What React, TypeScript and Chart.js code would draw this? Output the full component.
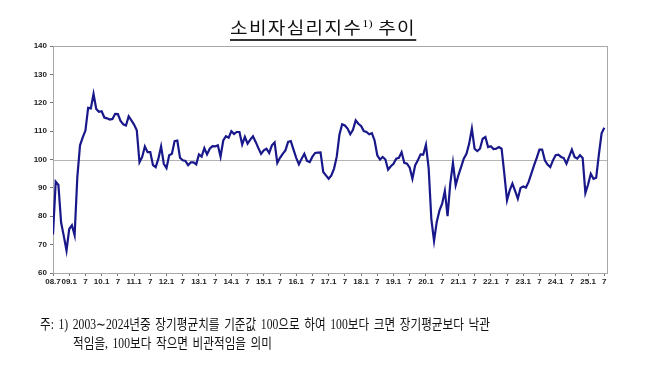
import React, { useEffect, useRef } from "react";
import { Chart, registerables } from "chart.js";
Chart.register(...registerables);

// 소비자심리지수 (monthly, 2008.7 ~ 2025.7)
const cci2008_2009 = [73.6, 92.2, 91.0, 77.8, 73.0, 67.9, 75.5, 76.8, 73.3, 93.8, 105.0, 107.8, 110.2, 118.2, 118.0, 123.1, 117.8, 116.8];
const cci2010 = [117.0, 114.8, 114.5, 114.1, 114.3, 116.1, 116.0, 113.6, 112.4, 112.0, 115.2, 113.8];
const cci2011 = [112.3, 110.3, 99.0, 100.9, 104.6, 102.6, 102.6, 98.0, 97.3, 100.3, 104.6, 98.5];
const cci2012 = [97.0, 101.5, 102.0, 106.5, 106.7, 100.6, 99.7, 99.5, 98.0, 99.0, 99.0, 98.3];
const cci2013 = [101.8, 101.0, 104.0, 101.8, 103.8, 104.7, 104.6, 105.0, 101.0, 106.7, 108.2, 107.7];
const cci2014 = [110.0, 109.0, 109.7, 109.7, 105.3, 108.0, 105.6, 107.0, 108.2, 106.2, 104.0, 102.0];
const cci2015 = [103.2, 103.8, 102.3, 105.0, 106.0, 98.8, 100.6, 102.0, 103.2, 106.2, 106.5, 103.5];
const cci2016 = [100.6, 98.3, 100.3, 102.0, 99.5, 99.1, 101.0, 102.3, 102.4, 102.5, 95.6, 94.4];
const cci2017 = [93.2, 94.4, 96.8, 101.0, 108.8, 112.4, 112.0, 110.9, 108.9, 110.5, 113.8, 112.6];
const cci2018 = [111.8, 110.0, 109.7, 108.9, 109.3, 106.7, 101.5, 100.0, 100.9, 100.0, 96.4, 97.6];
const cci2019 = [98.5, 100.3, 100.6, 102.6, 98.8, 98.5, 97.1, 93.2, 97.9, 99.7, 101.8, 101.7];
const cci2020 = [105.2, 97.0, 79.0, 71.3, 78.0, 82.0, 84.4, 88.9, 80.0, 91.5, 98.8, 90.9];
const cci2021 = [94.4, 97.3, 100.3, 102.0, 105.6, 110.9, 103.8, 103.0, 103.8, 107.3, 107.9, 104.4];
const cci2022 = [104.7, 103.7, 103.8, 104.4, 103.8, 95.0, 85.6, 89.1, 91.5, 88.9, 86.2, 90.0];
const cci2023 = [90.5, 90.1, 92.1, 95.0, 97.9, 100.6, 103.5, 103.5, 99.7, 98.2, 97.3, 99.7];
const cci2024 = [101.5, 101.7, 100.9, 100.5, 98.5, 101.0, 103.5, 100.9, 100.3, 101.5, 100.5, 88.2];
const cci2025 = [91.2, 95.0, 93.2, 93.6, 101.8, 109.2, 111.2];

const xTickLabels = [
  "08.7", "09.1", "7", "10.1", "7", "11.1", "7", "12.1", "7", "13.1", "7", "14.1", "7",
  "15.1", "7", "16.1", "7", "17.1", "7", "18.1", "7", "19.1", "7", "20.1", "7", "21.1", "7",
  "22.1", "7", "23.1", "7", "24.1", "7", "25.1", "7",
];
const yTicks = [60, 70, 80, 90, 100, 110, 120, 130, 140];
const baseline = 100;

const cciValues = [
  ...cci2008_2009, ...cci2010, ...cci2011, ...cci2012, ...cci2013, ...cci2014, ...cci2015,
  ...cci2016, ...cci2017, ...cci2018, ...cci2019, ...cci2020, ...cci2021, ...cci2022,
  ...cci2023, ...cci2024, ...cci2025,
];

const titleMain = "소비자심리지수";
const titleSup = "1)";
const titleTail = " 추이";
const noteLine1 = "주: 1) 2003∼2024년중 장기평균치를 기준값 100으로 하여 100보다 크면 장기평균보다 낙관";
const noteLine2 = "적임을, 100보다 작으면 비관적임을 의미";

const fitWidth = (target: number) => (el: HTMLElement | null) => {
  if (!el) return;
  el.style.transform = "none";
  const w = el.getBoundingClientRect().width;
  if (w > 0) el.style.transform = `scaleX(${target / w})`;
};

const frameAndBaseline = {
  id: "frameAndBaseline",
  beforeDatasetsDraw(chart: any) {
    const { ctx, chartArea } = chart;
    const y = chart.scales.y.getPixelForValue(baseline);
    ctx.save();
    ctx.strokeStyle = "#b4b4b4";
    ctx.lineWidth = 1;
    ctx.beginPath();
    ctx.moveTo(chartArea.left, Math.round(y) + 0.5);
    ctx.lineTo(chartArea.right, Math.round(y) + 0.5);
    ctx.stroke();
    ctx.strokeStyle = "#a8a8a8";
    ctx.strokeRect(
      Math.round(chartArea.left) + 0.5,
      Math.round(chartArea.top) + 0.5,
      Math.round(chartArea.right - chartArea.left),
      Math.round(chartArea.bottom - chartArea.top)
    );
    ctx.restore();
  },
};

export default function App() {
  const canvasRef = useRef<HTMLCanvasElement | null>(null);

  useEffect(() => {
    if (!canvasRef.current) return;
    const tickFont = { family: "'Liberation Sans', Arial, sans-serif", size: 8, weight: "bold" as const };
    const chart = new Chart(canvasRef.current, {
      type: "line",
      data: {
        datasets: [
          {
            data: cciValues.map((v, i) => ({ x: i, y: v })),
            borderColor: "#18188a",
            borderWidth: 2.2,
            pointRadius: 0,
            tension: 0,
            fill: false,
          },
        ],
      },
      options: {
        animation: false,
        responsive: false,
        devicePixelRatio: 1,
        layout: { padding: { left: 0, top: 46, right: 63, bottom: 0 } },
        plugins: { legend: { display: false }, tooltip: { enabled: false }, title: { display: false } },
        scales: {
          x: {
            type: "linear",
            min: 0,
            max: 205,
            afterBuildTicks: (scale: any) => {
              scale.ticks = xTickLabels.map((_, i) => ({ value: i * 6 }));
            },
            afterFit: (scale: any) => {
              scale.height = 96;
            },
            ticks: {
              autoSkip: false,
              maxRotation: 0,
              padding: 1,
              font: tickFont,
              color: "#222",
              callback: (_v: any, index: number) => xTickLabels[index],
            },
            grid: { drawOnChartArea: false, drawTicks: true, tickLength: 3, tickColor: "#777" },
            border: { display: true, color: "#999" },
          },
          y: {
            min: 60,
            max: 140,
            afterBuildTicks: (scale: any) => {
              scale.ticks = yTicks.map((v) => ({ value: v }));
            },
            afterFit: (scale: any) => {
              scale.width = 53;
            },
            ticks: { padding: 3, font: tickFont, color: "#222" },
            grid: { drawOnChartArea: false, drawTicks: true, tickLength: 3, tickColor: "#777" },
            border: { display: true, color: "#999" },
          },
        },
      },
      plugins: [frameAndBaseline],
    });
    return () => chart.destroy();
  }, []);

  const korean = "'Noto Sans CJK KR', 'Noto Sans', sans-serif";
  const noteFont = "'Liberation Serif', 'Noto Sans CJK KR', serif";

  return (
    <div style={{ position: "fixed", left: 0, top: 0, width: 670, height: 369, background: "#fff", overflow: "hidden" }}>
      <canvas ref={canvasRef} width={670} height={369} style={{ position: "absolute", left: 0, top: 0, width: 670, height: 369 }} />
      <span
        ref={fitWidth(186)}
        style={{
          position: "absolute",
          left: 230,
          top: 18,
          fontFamily: korean,
          fontSize: 17,
          lineHeight: "17px",
          whiteSpace: "nowrap",
          color: "#111",
          borderBottom: "2px solid #333",
          transformOrigin: "left top",
          letterSpacing: "1.2px",
        }}
      >
        {titleMain}
        <span style={{ fontFamily: noteFont, fontSize: 11, position: "relative", top: -7, letterSpacing: 0 }}>{titleSup}</span>
        {titleTail}
      </span>
      <span
        ref={fitWidth(450)}
        style={{
          position: "absolute",
          left: 40,
          top: 316,
          fontFamily: noteFont,
          fontSize: 14,
          lineHeight: "18px",
          whiteSpace: "pre",
          color: "#111",
          transformOrigin: "left top",
          wordSpacing: "2px",
        }}
      >
        {noteLine1}
      </span>
      <span
        ref={fitWidth(199)}
        style={{
          position: "absolute",
          left: 73,
          top: 335,
          fontFamily: noteFont,
          fontSize: 14,
          lineHeight: "18px",
          whiteSpace: "pre",
          color: "#111",
          transformOrigin: "left top",
          wordSpacing: "2px",
        }}
      >
        {noteLine2}
      </span>
    </div>
  );
}
